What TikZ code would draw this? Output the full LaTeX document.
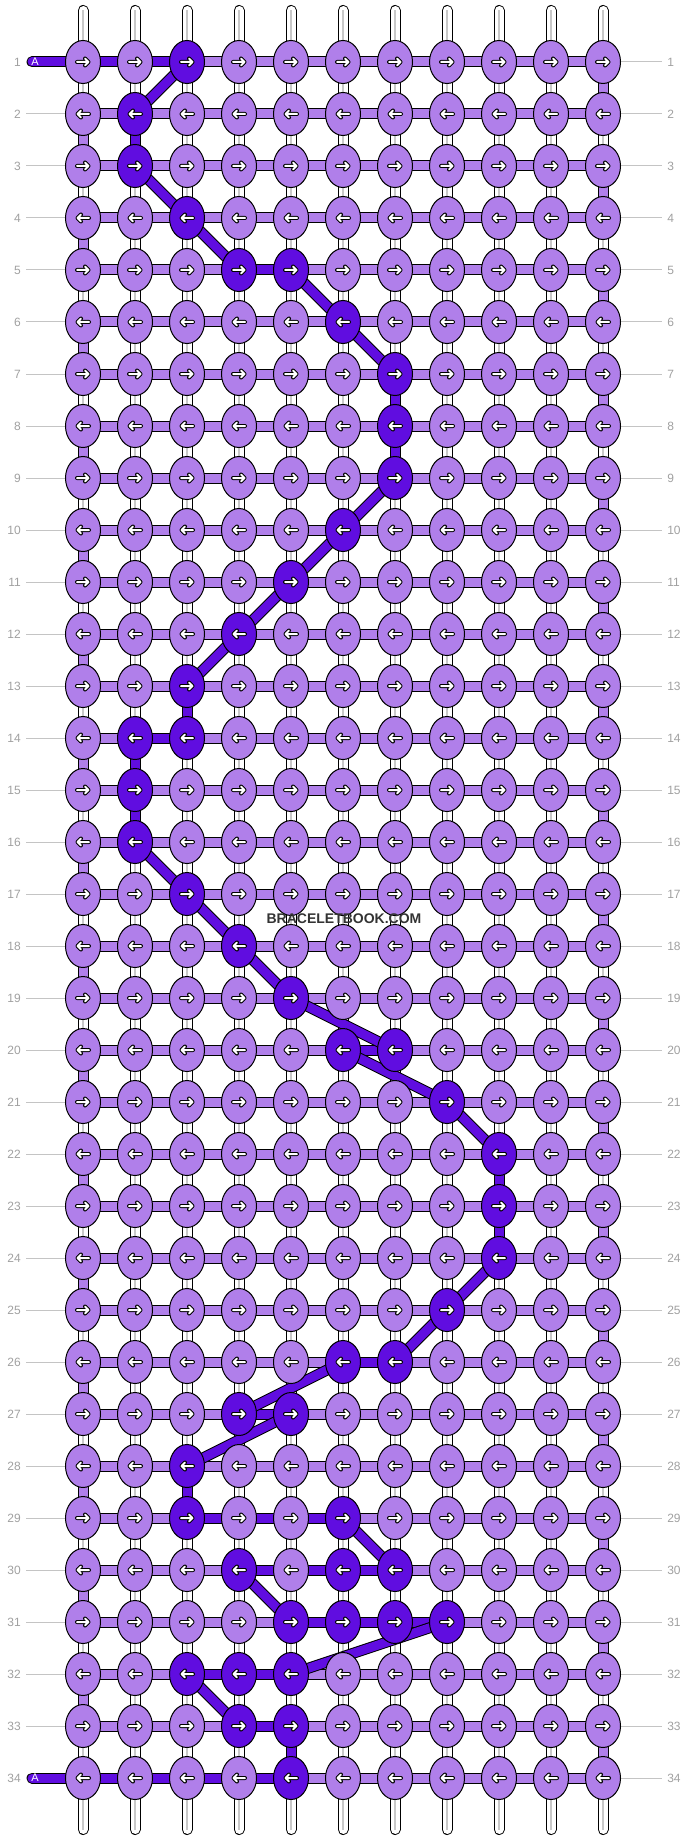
\documentclass[tikz,border=0pt]{standalone}
\usepackage{fontspec}
\setmainfont{Liberation Sans}
\usetikzlibrary{shapes.geometric}
\definecolor{palepurple}{HTML}{B07FEA}
\definecolor{deeppurple}{HTML}{600DE0}
\definecolor{rowgrey}{HTML}{A0A0A0}
\definecolor{tickgrey}{HTML}{C4C4C4}
\definecolor{coregrey}{HTML}{C8C8C8}
\definecolor{wmgrey}{HTML}{333333}
\tikzset{
  knot/.style={draw, ellipse, line width=0.75pt, minimum width=26.25pt, minimum height=32.25pt, inner sep=0pt},
  strout/.style={line width=8.25pt, line cap=round},
  strin/.style={white, line width=6.75pt, line cap=round},
  strcore/.style={coregrey, line width=1.5pt},
  barout/.style={line width=8.25pt},
  barin/.style={line width=6.75pt},
  tick/.style={tickgrey, line width=0.75pt},
  rowlab/.style={rowgrey, font=\fontsize{9}{9}\selectfont, inner sep=0pt},
  arw/.pic={
    \draw[line width=3pt, line cap=round, line join=round] (-6,0) -- (5.5,0) (2,-3.5) -- (5.5,0) -- (2,3.5);
    \draw[white, line width=1.5pt, line cap=round, line join=round] (-6,0) -- (5.5,0) (2,-3.5) -- (5.5,0) -- (2,3.5);
  }
}
\begin{document}
\begin{tikzpicture}[x=0.75pt, y=-0.75pt]
\useasboundingbox (0,0) rectangle (688,1840);

\foreach \p in {1-3,2-2,3-2,4-3,5-4,5-5,6-6,7-7,8-7,9-7,10-6,11-5,12-4,13-3,14-2,14-3,15-2,16-2,17-3,18-4,19-5,20-6,20-7,21-8,22-9,23-9,24-9,25-8,26-6,26-7,27-4,27-5,28-3,29-3,29-6,30-4,30-6,30-7,31-5,31-6,31-7,31-8,32-3,32-4,32-5,33-4,33-5,34-5}
  {\expandafter\gdef\csname dk-\p\endcsname{}}
\foreach \p in {1-1,1-2,5-4,14-2,20-6,26-6,27-4,29-3,29-4,29-5,30-4,30-5,30-6,31-5,31-6,31-7,32-3,32-4,33-4,34-1,34-2,34-3,34-4}
  {\expandafter\gdef\csname hb-\p\endcsname{}}

\foreach \row in {1,...,34}{
  \foreach \col in {1,...,11}{
    \coordinate (p-\row-\col) at ({83+52*(\col-1)},{62+52*(\row-1)});
  }
}

\foreach \row in {1,...,34}{
  \node (nl-\row) at (21,{62+52*(\row-1)}) [rowlab, anchor=east] {\row};
  \node (nr-\row) at (667,{62+52*(\row-1)}) [rowlab, anchor=west] {\row};
  \draw[tick, shorten >=3.75pt] (p-\row-11) -- (nr-\row.west);
}
\foreach \row in {2,...,33}{
  \draw[tick, shorten <=3.75pt] (nl-\row.east) -- (p-\row-1);
}

\foreach \col in {1,...,11}{
  \coordinate (t-\col) at ({83+52*(\col-1)},10.5);
  \coordinate (b-\col) at ({83+52*(\col-1)},1829.5);
  \draw[strout] (t-\col) -- (b-\col);
  \draw[strin] (t-\col) -- (b-\col);
  \draw[strcore] (t-\col) -- (b-\col);
}

\foreach \row in {1,...,34}{
  \foreach \col [evaluate=\col as \nx using int(\col+1)] in {1,...,10}{
    \ifcsname hb-\row-\col\endcsname\def\bc{deeppurple}\else\def\bc{palepurple}\fi
    \draw[barout] (p-\row-\col) -- (p-\row-\nx);
    \draw[barin, \bc] (p-\row-\col) -- (p-\row-\nx);
  }
}

\coordinate (a-1) at (32,62);
\coordinate (a-34) at (32,1778);
\foreach \row in {1,34}{
  \draw[barout, line cap=round] (a-\row) -- (p-\row-1);
  \draw[barin, deeppurple, line cap=round] (a-\row) -- (p-\row-1);
  \node (al-\row) at (35,{62+52*(\row-1)}) [white, inner sep=0pt, font=\fontsize{8.25}{8.25}\selectfont] {A};
}

\foreach \row [evaluate=\row as \nx using int(\row+1)] in {1,3,...,33}{
  \draw[barout] (p-\row-11) -- (p-\nx-11);
  \draw[barin, palepurple] (p-\row-11) -- (p-\nx-11);
}
\foreach \row [evaluate=\row as \nx using int(\row+1)] in {2,4,...,32}{
  \draw[barout] (p-\row-1) -- (p-\nx-1);
  \draw[barin, palepurple] (p-\row-1) -- (p-\nx-1);
}

\foreach \ra/\ca/\rb/\cb in {1/3/2/2,2/2/3/2,3/2/4/3,4/3/5/4,5/5/6/6,6/6/7/7,7/7/8/7,8/7/9/7,9/7/10/6,10/6/11/5,11/5/12/4,12/4/13/3,13/3/14/3,14/2/15/2,15/2/16/2,16/2/17/3,17/3/18/4,18/4/19/5,19/5/20/7,20/6/21/8,21/8/22/9,22/9/23/9,23/9/24/9,24/9/25/8,25/8/26/7,26/6/27/4,27/5/28/3,28/3/29/3,29/6/30/7,30/4/31/5,31/8/32/5,32/3/33/4,33/5/34/5}{
  \draw[barout] (p-\ra-\ca) -- (p-\rb-\cb);
  \draw[barin, deeppurple] (p-\ra-\ca) -- (p-\rb-\cb);
}

\foreach \row in {1,...,34}{
  \foreach \col in {1,...,11}{
    \ifcsname dk-\row-\col\endcsname\def\kc{deeppurple}\else\def\kc{palepurple}\fi
    \ifodd\row\def\ad{1}\else\def\ad{-1}\fi
    \node (k-\row-\col) at (p-\row-\col) [knot, fill=\kc] {};
    \pic[xscale=\ad] at (p-\row-\col) {arw};
  }
}

\node (wm) at (344,919) [text=wmgrey, font=\bfseries\fontsize{10.5}{10.5}\selectfont] {BRACELETBOOK.COM};
\end{tikzpicture}
\end{document}
